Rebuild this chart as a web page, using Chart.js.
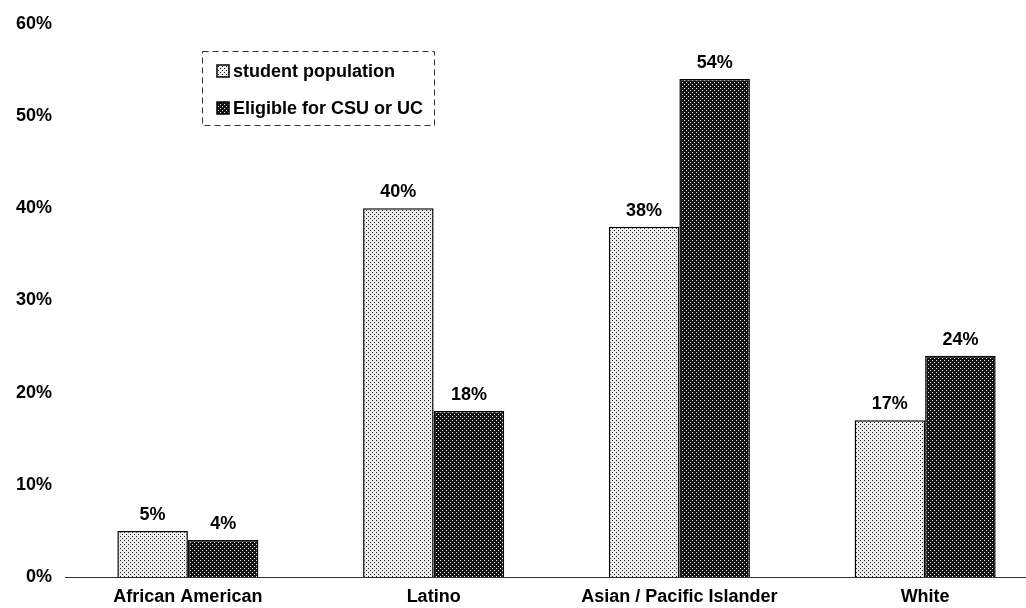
<!DOCTYPE html>
<html>
<head>
<meta charset="utf-8">
<script src="https://cdn.jsdelivr.net/npm/chart.js@4/dist/chart.umd.min.js"></script>
<style>
  html, body { margin: 0; padding: 0; background: #fff; overflow: hidden; }
  #wrap { width: 1050px; height: 608px; position: relative; }
</style>
</head>
<body>
<div id="wrap"><canvas id="c"></canvas></div>
<script>
// Share of students by group: enrolled population vs. those eligible for CSU or UC
const categories = ['African American', 'Latino', 'Asian / Pacific Islander', 'White'];
const studentPopulation = [5, 40, 38, 17];
const eligibleCsuUc = [4, 18, 54, 24];
const seriesNames = ['student population', 'Eligible for CSU or UC'];
const yTicks = [0, 10, 20, 30, 40, 50, 60];

const FONT = '"Liberation Sans", Arial, Helvetica, sans-serif';

// Halftone-style fills: light (sparse dark dots) and dark (dense, light dots)
function makePattern(bg, dot) {
  const p = document.createElement('canvas');
  p.width = 4; p.height = 4;
  const g = p.getContext('2d');
  g.fillStyle = bg; g.fillRect(0, 0, 4, 4);
  g.fillStyle = dot;
  g.fillRect(0, 0, 1, 1);
  g.fillRect(2, 2, 1, 1);
  return g.createPattern(p, 'repeat');
}
const lightFill = makePattern('#ececec', '#222');
const darkFill = makePattern('#141414', '#f0f0f0');

// Value labels above each bar
const valueLabels = {
  id: 'valueLabels',
  afterDatasetsDraw(chart) {
    const ctx = chart.ctx;
    ctx.save();
    ctx.font = 'bold 18px ' + FONT;
    ctx.fillStyle = '#000';
    ctx.textAlign = 'center';
    ctx.textBaseline = 'alphabetic';
    chart.data.datasets.forEach((ds, i) => {
      chart.getDatasetMeta(i).data.forEach((bar, j) => {
        ctx.fillText(ds.data[j] + '%', bar.x, bar.y - 11);
      });
    });
    ctx.restore();
  }
};

// Boxed legend drawn inside the plot area
const boxedLegend = {
  id: 'boxedLegend',
  afterDraw(chart) {
    const ctx = chart.ctx;
    const x0 = 202, y0 = 51, w = 232, h = 74;
    ctx.save();
    ctx.strokeStyle = '#333';
    ctx.lineWidth = 1;
    ctx.setLineDash([6, 4]);
    ctx.strokeRect(x0 + 0.5, y0 + 0.5, w, h);
    ctx.setLineDash([]);
    ctx.font = 'bold 18px ' + FONT;
    ctx.textBaseline = 'middle';
    const fills = [lightFill, darkFill];
    chart.data.datasets.forEach((ds, i) => {
      const cy = y0 + 20 + i * 37;
      ctx.fillStyle = fills[i];
      ctx.fillRect(217, cy - 6, 12, 12);
      ctx.strokeStyle = '#000';
      ctx.lineWidth = 1.5;
      ctx.strokeRect(217, cy - 6, 12, 12);
      ctx.fillStyle = '#000';
      ctx.fillText(ds.label, 233, cy + 1);
    });
    ctx.restore();
  }
};

new Chart(document.getElementById('c'), {
  type: 'bar',
  data: {
    labels: categories,
    datasets: [
      { label: seriesNames[0], data: studentPopulation, backgroundColor: lightFill,
        borderColor: '#000', borderWidth: 1.5, borderSkipped: 'bottom' },
      { label: seriesNames[1], data: eligibleCsuUc, backgroundColor: darkFill,
        borderColor: '#000', borderWidth: 1.5, borderSkipped: 'bottom' }
    ]
  },
  options: {
    responsive: true,
    maintainAspectRatio: false,
    animation: false,
    events: [],
    layout: { padding: { top: 22, right: 2, left: 0, bottom: 0 } },
    plugins: {
      legend: { display: false },
      tooltip: { enabled: false }
    },
    datasets: {
      bar: { categoryPercentage: 0.574, barPercentage: 1.0 }
    },
    scales: {
      x: {
        afterFit(scale) { scale.height = 31; },
        grid: { display: false, drawTicks: false },
        border: { display: true, color: '#333', width: 1 },
        ticks: { color: '#000', font: { family: FONT, size: 18, weight: 'bold' }, padding: 9, maxRotation: 0 }
      },
      y: {
        min: 0, max: 60,
        afterBuildTicks(scale) { scale.ticks = yTicks.map(v => ({ value: v })); },
        afterFit(scale) { scale.width = 65; },
        grid: { display: false, drawTicks: false },
        border: { display: false },
        ticks: {
          color: '#000', font: { family: FONT, size: 18, weight: 'bold' }, padding: 13,
          callback: v => v + '%'
        }
      }
    }
  },
  plugins: [valueLabels, boxedLegend]
});
</script>
</body>
</html>
